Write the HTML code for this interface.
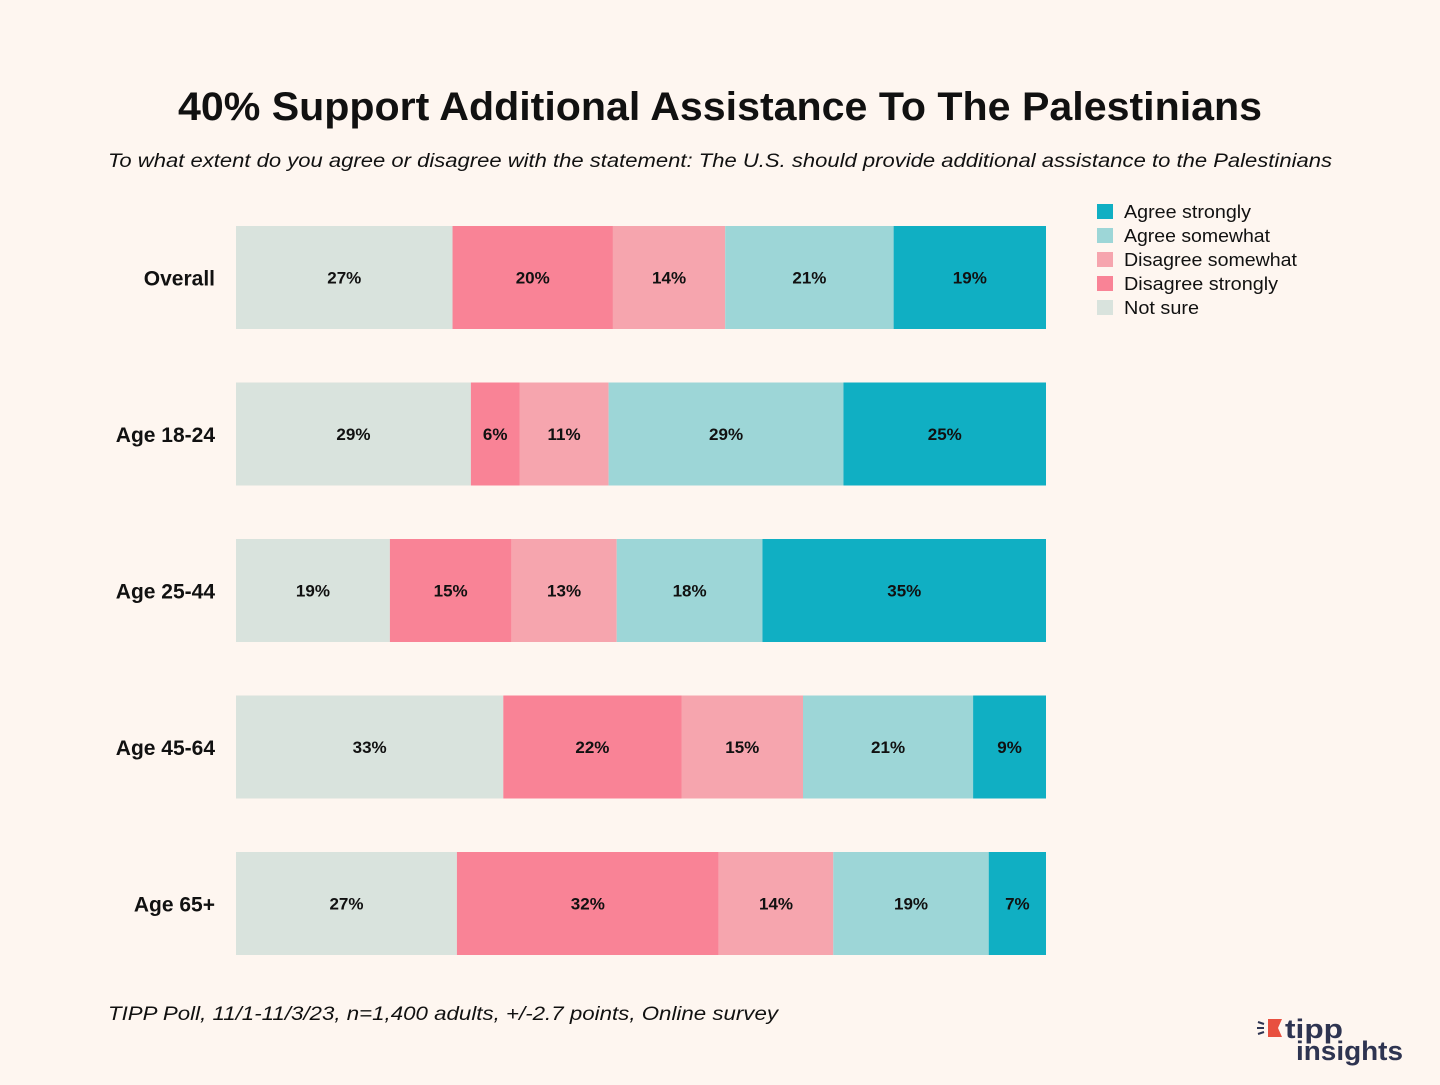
<!DOCTYPE html>
<html><head><meta charset="utf-8"><style>
body{margin:0;background:#fef6f0;width:1440px;height:1080px;overflow:hidden;font-family:"Liberation Sans",sans-serif;}
</style></head><body>
<svg width="1440" height="1080">
<rect width="1440" height="1080" fill="#fef6f0"/>
<text x="178" y="120" textLength="1084" lengthAdjust="spacingAndGlyphs" font-size="40" font-weight="bold" fill="#111">40% Support Additional Assistance To The Palestinians</text>
<text x="108" y="167" textLength="1224" lengthAdjust="spacingAndGlyphs" font-size="19" font-style="italic" fill="#111">To what extent do you agree or disagree with the statement: The U.S. should provide additional assistance to the Palestinians</text>
<g id="bars"></g>
<g id="legend"></g>
<text x="108" y="1020" textLength="670" lengthAdjust="spacingAndGlyphs" font-size="19" font-style="italic" fill="#111">TIPP Poll, 11/1-11/3/23, n=1,400 adults, +/-2.7 points, Online survey</text>
<g>
<path d="M1268 1019 L1282 1019 L1278 1028 L1282 1037 L1268 1037 Z" fill="#e8503f"/>
<line x1="1258" y1="1022" x2="1264" y2="1024" stroke="#2e3451" stroke-width="2"/>
<line x1="1257" y1="1028" x2="1264" y2="1028" stroke="#2e3451" stroke-width="2"/>
<line x1="1258" y1="1034" x2="1264" y2="1032" stroke="#2e3451" stroke-width="2"/>
<text x="1285" y="1038" textLength="58" lengthAdjust="spacingAndGlyphs" font-size="27" font-weight="bold" fill="#2e3451">tipp</text>
<text x="1296" y="1060" textLength="107" lengthAdjust="spacingAndGlyphs" font-size="27" font-weight="bold" fill="#2e3451">insights</text>
</g>
</svg>
<script>
const categories=["Overall","Age 18-24","Age 25-44","Age 45-64","Age 65+"];
const seriesNames=["Not sure","Disagree strongly","Disagree somewhat","Agree somewhat","Agree strongly"];
const notSure=[27,29,19,33,27];
const disagreeStrongly=[20,6,15,22,32];
const disagreeSomewhat=[14,11,13,15,14];
const agreeSomewhat=[21,29,18,21,19];
const agreeStrongly=[19,25,35,9,7];
const series=[notSure,disagreeStrongly,disagreeSomewhat,agreeSomewhat,agreeStrongly];
const colors=["#d9e3dd","#f98396","#f6a5ae","#9dd6d7","#10afc3"];
const NS="http://www.w3.org/2000/svg";
const x0=236,W=810,y0=226,step=156.5,bh=103;
const xScale=(v,tot)=>v/tot*W;
const yScale=i=>y0+i*step;
const g=document.getElementById('bars');
categories.forEach((c,i)=>{
  const y=yScale(i);
  const tot=series.reduce((s,a)=>s+a[i],0);
  const lab=document.createElementNS(NS,'text');
  
  
  lab.setAttribute('x',215);lab.setAttribute('y',y+bh/2+8);lab.setAttribute('text-anchor','end');
  lab.setAttribute('font-size','21');lab.setAttribute('font-weight','bold');lab.setAttribute('fill','#111');
  lab.textContent=c;g.appendChild(lab);
  let x=x0;
  series.forEach((s,k)=>{
    const w=xScale(s[i],tot);
    const r=document.createElementNS(NS,'rect');
    
    
    r.setAttribute('x',x);r.setAttribute('y',y);r.setAttribute('width',w);r.setAttribute('height',bh);r.setAttribute('fill',colors[k]);
    g.appendChild(r);
    const t=document.createElementNS(NS,'text');
    
    
    t.setAttribute('x',x+w/2);t.setAttribute('y',y+bh/2+6);t.setAttribute('text-anchor','middle');
    t.setAttribute('font-size','17');t.setAttribute('font-weight','bold');t.setAttribute('fill','#111');
    t.textContent=s[i]+'%';g.appendChild(t);
    x+=w;
  });
});
const lg=document.getElementById('legend');
const order=[4,3,2,1,0];
const legendLens=[127,146,173,154,75];
order.forEach((k,j)=>{
  const y=204+j*24;
  const r=document.createElementNS(NS,'rect');
  
  
  r.setAttribute('x',1097);r.setAttribute('y',y);r.setAttribute('width',16);r.setAttribute('height',15);r.setAttribute('fill',colors[k]);
  lg.appendChild(r);
  const t=document.createElementNS(NS,'text');
  
  
  t.setAttribute('x',1124);t.setAttribute('y',y+14);t.setAttribute('font-size','18');t.setAttribute('fill','#111');
  t.setAttribute('textLength',legendLens[j]);t.setAttribute('lengthAdjust','spacingAndGlyphs');
  t.textContent=seriesNames[k];lg.appendChild(t);
});
</script>
</body></html>
